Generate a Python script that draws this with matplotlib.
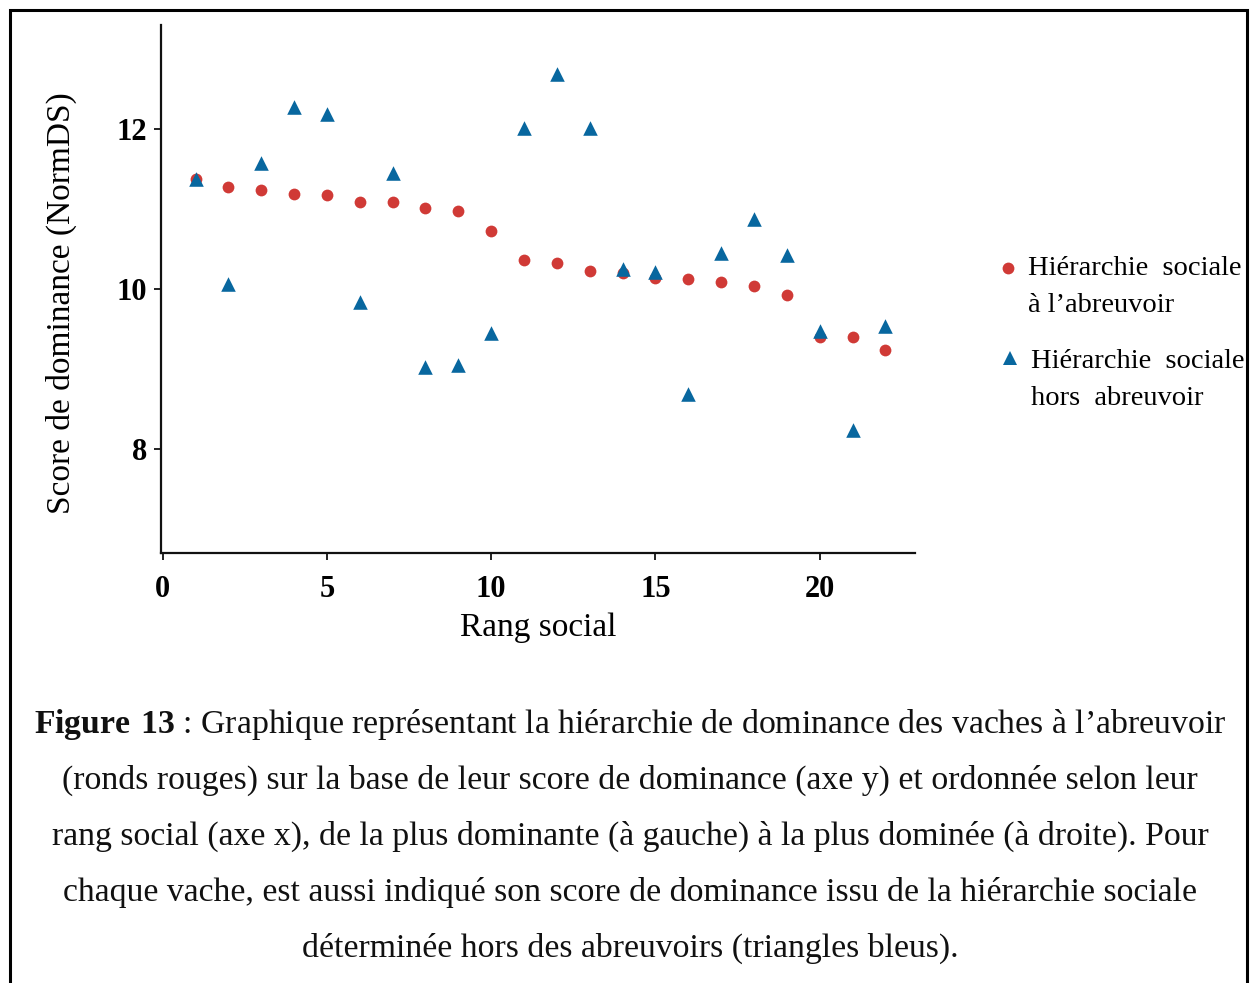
import matplotlib
matplotlib.use("Agg")
import matplotlib.pyplot as plt
from matplotlib.lines import Line2D
from matplotlib.patches import Rectangle

# social rank of each cow (1 = most dominant)
rang = list(range(1, 23))

# NormDS dominance score at the water trough
score_abreuvoir = [11.37, 11.27, 11.24, 11.19, 11.17, 11.09, 11.09, 11.01, 10.97, 10.72,
                   10.36, 10.33, 10.22, 10.20, 10.14, 10.12, 10.09, 10.04, 9.93, 9.40,
                   9.40, 9.24]

# NormDS dominance score from the hierarchy outside the trough
score_hors = [11.37, 10.06, 11.57, 12.28, 12.19, 9.84, 11.45, 9.03, 9.05, 9.45,
              12.01, 12.69, 12.01, 10.25, 10.21, 8.69, 10.45, 10.87, 10.43, 9.48,
              8.24, 9.54]

legend_lines = [["Hiérarchie  sociale", "à l\u2019abreuvoir"],
                ["Hiérarchie  sociale", "hors  abreuvoir"]]
xticks = [0, 5, 10, 15, 20]
yticks = [8, 10, 12]

caption_lines = [
    "$\\mathbf{Figure\\ 13}$ : Graphique représentant la hiérarchie de dominance des vaches à l\u2019abreuvoir",
    "(ronds rouges) sur la base de leur score de dominance (axe y) et ordonnée selon leur",
    "rang social (axe x), de la plus dominante (à gauche) à la plus dominée (à droite). Pour",
    "chaque vache, est aussi indiqué son score de dominance issu de la hiérarchie sociale",
    "déterminée hors des abreuvoirs (triangles bleus).",
]

RED = "#d03a36"
BLUE = "#08679f"
W, H = 1252, 983

plt.rcParams["font.family"] = ["Liberation Serif", "DejaVu Serif"]
plt.rcParams["mathtext.fontset"] = "custom"
plt.rcParams["mathtext.rm"] = "Liberation Serif"
plt.rcParams["mathtext.bf"] = "Liberation Serif:bold"

fig = plt.figure(figsize=(W / 100, H / 100), dpi=100)
ax = fig.add_axes([0.1286, 0.4374, 0.6022, 0.5372])

ax.scatter(rang, score_abreuvoir, s=72, marker="o", color=RED, linewidths=0, zorder=2)
ax.scatter(rang, score_hors, s=110, marker="^", color=BLUE, linewidths=0, zorder=3)

ax.set_xlim(-0.05, 22.9)
ax.set_ylim(6.7, 13.3)
ax.set_xticks(xticks)
ax.set_yticks(yticks)
for lab in ax.get_xticklabels() + ax.get_yticklabels():
    lab.set_fontweight("bold")
    lab.set_fontsize(22)
ax.tick_params(direction="out", length=5, width=1.4, color="#222222")
ax.tick_params(axis="y", pad=5)
ax.tick_params(axis="x", pad=11)

for side in ["top", "right"]:
    ax.spines[side].set_visible(False)
for side in ["left", "bottom"]:
    ax.spines[side].set_linewidth(1.6)
    ax.spines[side].set_color("#111111")

ax.set_xlabel("Rang social", fontsize=24, labelpad=6)
ax.set_ylabel("Score de dominance (NormDS)", fontsize=24)
ax.yaxis.set_label_coords(-0.111, 0.4735)

# legend on the right, markers aligned with the first text line
legend_items = [
    ("o", RED, 8.5, (1008, 268), 1028, [275, 312]),
    ("^", BLUE, 10.5, (1010, 358), 1031, [368, 405]),
]
for (mk, col, ms, (mx, my), tx, bases), lines in zip(legend_items, legend_lines):
    fig.add_artist(Line2D([mx / W], [1 - my / H], transform=fig.transFigure,
                          marker=mk, markersize=ms, color=col, markeredgewidth=0,
                          linestyle="none"))
    for base, txt in zip(bases, lines):
        fig.text(tx / W, 1 - base / H, txt, ha="left", va="baseline", fontsize=20.5)

# caption block under the chart
y0 = 725
for i, line in enumerate(caption_lines):
    fig.text(630 / W, 1 - (y0 + i * 55.8) / H, line, ha="center", va="center",
             fontsize=24.3, color="#111111")

# frame around the figure
fig.patches.append(Rectangle((10 / W, -0.05), 1237 / W, 1.05 - 10 / H,
                             transform=fig.transFigure, fill=False,
                             edgecolor="black", linewidth=2.2))

fig.savefig("out.png", dpi=100, facecolor="white")
